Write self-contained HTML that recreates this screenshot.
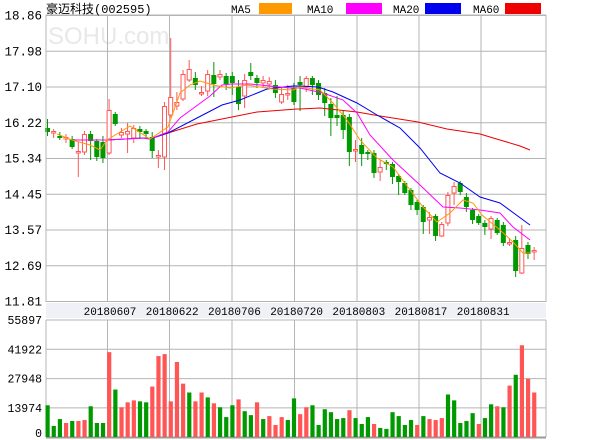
<!DOCTYPE html>
<html><head><meta charset="utf-8"><style>
body{margin:0;background:#fff;}
svg{display:block;font-family:"Liberation Mono","Noto Sans CJK SC",monospace;}
</style></head><body>
<svg id="c" width="600" height="440" xmlns="http://www.w3.org/2000/svg"></svg>
<script>
var s='';
function L(x1,y1,x2,y2,c,w){s+='<line x1="'+x1+'" y1="'+y1+'" x2="'+x2+'" y2="'+y2+'" stroke="'+c+'" stroke-width="'+(w||1)+'"/>';}
function T(x,y,t,a,sz,c,f){s+='<text x="'+x+'" y="'+y+'" font-size="'+(sz||12)+'" text-anchor="'+(a||'start')+'" fill="'+(c||'#000')+'"'+(f?' font-family="'+f+'"':'')+'>'+t+'</text>';}
function R(x,y,w,h,f,st){s+='<rect x="'+x+'" y="'+y+'" width="'+w+'" height="'+h+'" fill="'+f+'"'+(st?' stroke="'+st+'"':'')+'/>';}
var G='#b4b4b4',X0=46,X1=546;
// watermark
T(48,44,'SOHU.com','start',24,'#e8e8e8','Liberation Sans, sans-serif');
// price grid
var pl=['18.86','17.98','17.10','16.22','15.34','14.45','13.57','12.69','11.81'];
for(var k=0;k<9;k++){var y=15.5+k*35.75;L(X0,y,X1,y,G);T(42,y+4,pl[k],'end',12.5);}
var vx=[46,107.5,169.5,232,294.5,357,419,481,546];
vx.forEach(function(x){L(x,15,x,302,G);L(x,320,x,437,G);});
// date band
R(X0,303,500,15,'#f0f0f7');
var dl=['20180607','20180622','20180706','20180720','20180803','20180817','20180831'];
for(k=0;k<7;k++)T(110+k*62.2,315,dl[k],'middle',11);
// volume grid
var vl=['55897','41922','27948','13974','0'];
for(k=0;k<5;k++){var y=320+k*29.3;L(X0,y,X1,y,G);T(42,y+(k==4?0:4),vl[k],'end',11.5);}
L(X0,437.5,X1,437.5,'#999',2);
// volume bars
var vc='GGGRGRRGGGRGRRRGGRRRRRRGRRGRGGGRGGRGRRRGGRRGGGGGGRGGGRGGGGGGRGRRRGGGGGRGGRGRGR';
var vz=[318,381,360,372,366,366,363,321,372,372,156,270,324,309,303,306,309,261,168,162,306,186,252,279,306,279,294,312,324,354,318,300,336,348,309,360,351,378,354,363,297,345,324,318,378,330,339,360,357,333,357,375,354,375,387,390,339,351,378,363,378,351,360,363,357,285,303,372,366,342,375,357,315,321,324,258,225,135,237,279];
for(k=0;k<80;k++){var x=47.5+k*6.16;var yt=320+(vz[k]-58)*0.328;R(x-2,yt,4.2,437-yt,vc[k]=='G'?'#009900':'#ff5555');}
// candles [i,color,top,bot,hi,lo]
var cd=[[0,'G',128,132,119,136],[1,'R',131,133,129,138],[2,'G',136,138,132,140],[3,'R',137,139,134,143],[4,'G',139,147,136,149],
[5,'R',151,153,142,177],[6,'R',134,152,131,155],[7,'G',134,141,131,160],[8,'G',141,157,139,161],[9,'G',142,158,136,163],
[10,'R',110,153,99,155],[11,'G',114,124,112,126],[12,'R',132,135,128,138],[13,'R',131,134,123,153],[14,'R',128,138,125,143],
[15,'G',129,132,126,139],[16,'G',131,134,129,138],[17,'G',137,151,132,158],[18,'R',155,157,150,168],[19,'R',106,157,102,170],
[20,'R',97,115,38,118],[21,'R',102,106,92,110],[22,'R',74,99,70,101],[23,'R',69,80,60,82],[24,'G',78,85,72,90],
[25,'R',92,94,86,96],[26,'R',74,91,70,96],[27,'G',75,84,62,97],[28,'R',74,77,70,80],[29,'G',76,84,73,90],
[30,'G',76,83,72,95],[31,'G',87,104,80,110],[32,'R',80,96,74,108],[33,'G',72,76,63,80],[34,'G',78,83,75,88],
[35,'R',80,83,76,87],[36,'R',81,84,77,88],[37,'G',85,93,80,98],[38,'R',94,102,88,104],[39,'R',93,95,85,100],
[40,'G',88,102,83,105],[41,'G',82,85,76,111],[42,'R',78,87,76,92],[43,'G',78,85,76,95],[44,'G',83,95,80,100],
[45,'G',93,103,88,116],[46,'G',104,118,98,136],[47,'G',115,118,96,126],[48,'G',115,130,110,139],[49,'G',117,152,114,166],
[50,'R',149,151,140,162],[51,'G',145,154,138,166],[52,'G',152,154,150,160],[53,'G',153,173,150,178],[54,'R',167,172,160,181],
[55,'G',162,164,160,170],[56,'G',164,177,162,184],[57,'G',176,182,174,195],[58,'G',183,193,181,195],[59,'G',190,205,188,210],
[60,'G',202,210,200,215],[61,'G',207,222,205,234],[62,'R',217,220,212,234],[63,'G',216,236,214,241],[64,'R',224,236,222,237],
[65,'R',195,223,192,226],[66,'R',186,193,182,205],[67,'G',183,192,181,195],[68,'G',197,207,193,212],[69,'G',210,220,208,224],
[70,'G',216,223,214,225],[71,'G',223,227,220,235],[72,'R',218,229,216,239],[73,'G',220,233,218,235],[74,'G',225,243,222,246],
[75,'R',242,244,238,246],[76,'G',240,271,236,277],[77,'R',248,273,225,274],[78,'G',245,254,242,259],[79,'R',250,252,247,260]];
cd.forEach(function(c){var x=47.5+c[0]*6.16;var col=c[1]=='G'?'#009900':'#ff5555';
L(x,c[4],x,c[5],col);var h=Math.max(c[3]-c[2],1);
if(c[1]=='G')R(x-2.5,c[2],5,h,col);else R(x-2,c[2]+0.5,4,h-0.5,'#fff',col);});
function P(pts,col){s+='<polyline fill="none" stroke="'+col+'" stroke-width="1" points="'+pts+'"/>';}
P('160,135 168,133 197,124 232,117 257,112 297,109 300,109 320,108 357,112 380,116 418,122 447,129 480,134 500,140 520,146 530,150','#ee0000');
P('107,140 143,138 150,139 168,133 197,118 222,105 240,100 267,89 293,86 300,86 318,87 333,92 357,103 377,115 400,128 420,148 440,173 460,183 480,197 500,203 530,225','#0000ee');
P('73,140 107,140 143,138 150,139 168,132 180,118 195,107 210,96 222,85 232,84 250,84 270,86 290,88 300,88 323,93 343,100 357,113 370,135 393,160 420,185 443,207 460,208 480,210 500,213 513,227 530,240','#ff00ff');
P('57,134 72,140 90,145 100,150 107,140 130,126 150,139 168,127 180,93 190,85 200,81 213,85 230,88 247,85 273,89 293,90 300,87 320,90 333,103 347,120 360,140 377,158 393,167 410,190 423,207 437,222 450,213 463,200 473,203 482,215 500,230 513,242 523,253 530,253','#ff9900');
// borders
L(X0,15,X0,302,G);L(X1,15,X1,302,G);L(X0,15,X1,15,G);
// legend
T(46,13,'豪迈科技(002595)','start',12);
T(231,13,'MA5','start',11);R(259,3,33,11,'#ff9900');
T(307,13,'MA10','start',11);R(346,3,36,11,'#ff00ff');
T(393,13,'MA20','start',11);R(425,3,36,11,'#0000ee');
T(473,13,'MA60','start',11);R(505,3,36,11,'#ee0000');
document.getElementById('c').innerHTML=s;
</script>
</body></html>
